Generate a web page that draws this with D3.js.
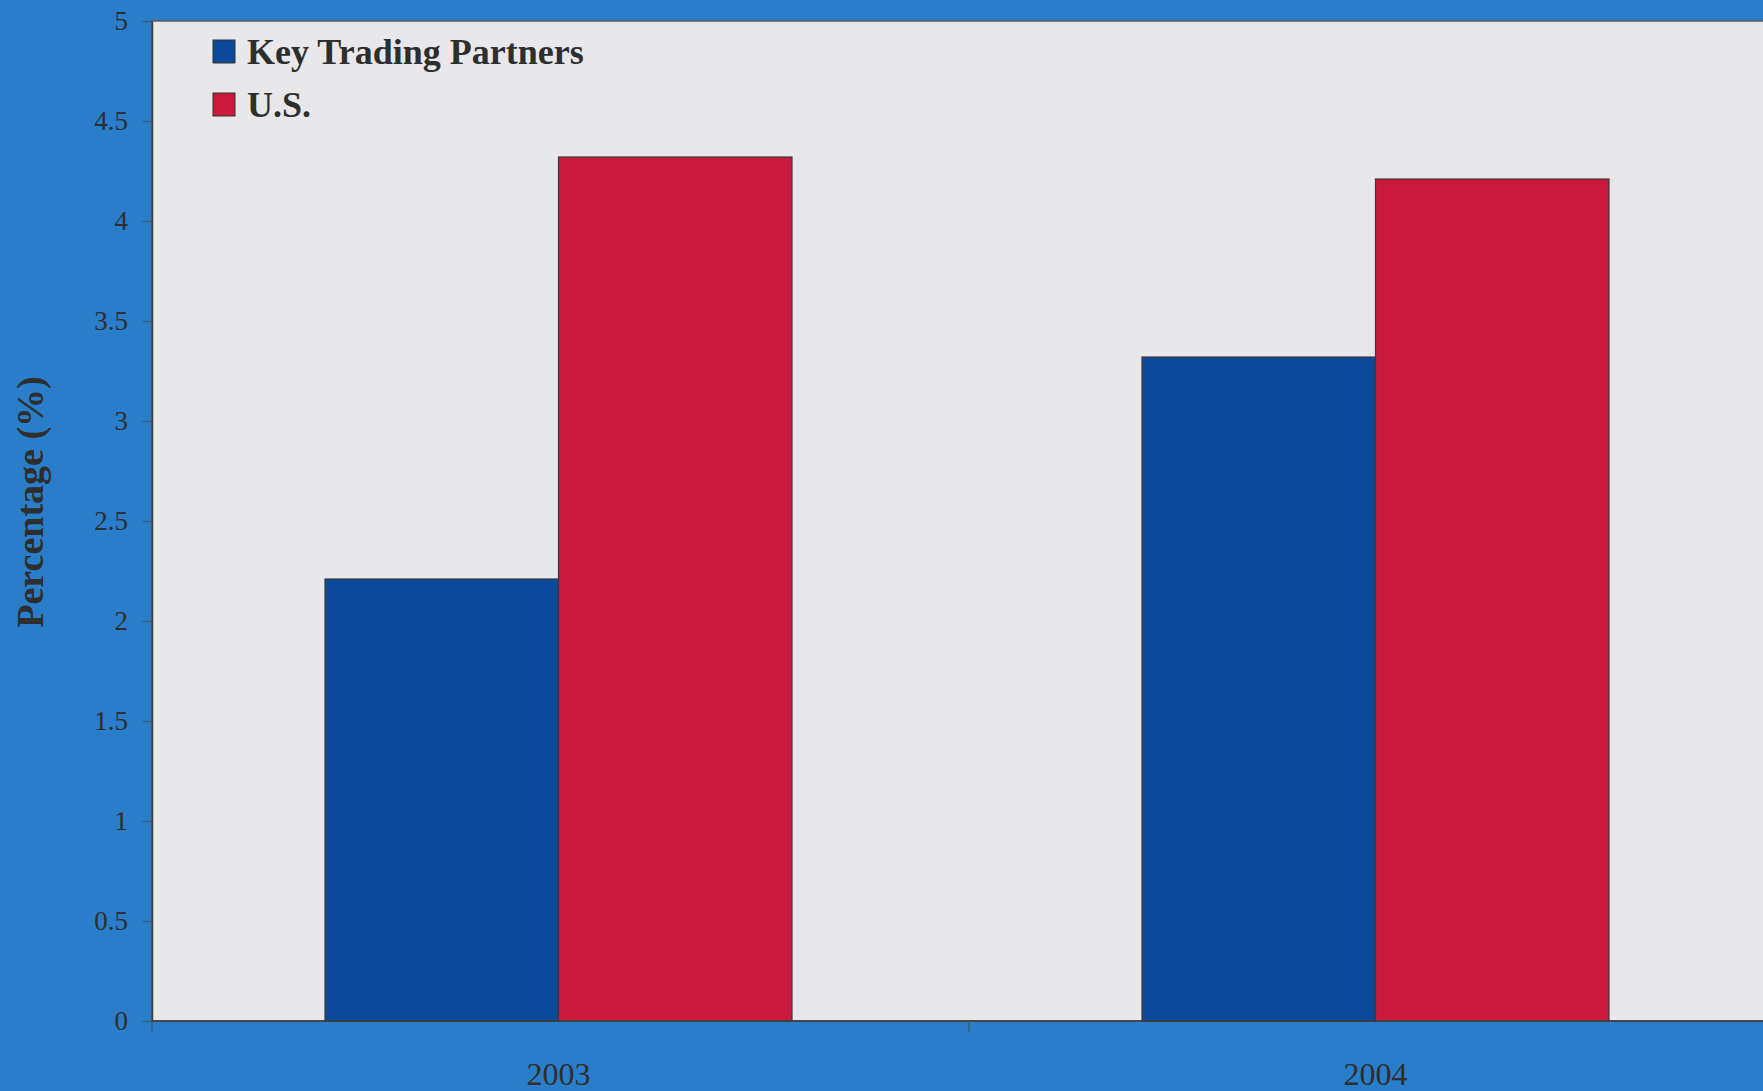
<!DOCTYPE html>
<html>
<head>
<meta charset="utf-8">
<script src="https://cdn.jsdelivr.net/npm/d3@7"></script>
<style>
  html, body { margin: 0; padding: 0; background: #2a7dc9; overflow: hidden; }
  svg { display: block; }
</style>
</head>
<body>
<svg id="chart" width="1763" height="1091"></svg>
<script>
// ---- data ----
const categories = ["2003", "2004"];
const seriesNames = ["Key Trading Partners", "U.S."];
const keyTradingPartners = [2.21, 3.32];
const us = [4.32, 4.21];
const yTicks = [0, 0.5, 1, 1.5, 2, 2.5, 3, 3.5, 4, 4.5, 5];
const yTickLabels = ["0", "0.5", "1", "1.5", "2", "2.5", "3", "3.5", "4", "4.5", "5"];
const yTitle = "Percentage (%)";

const seriesValues = [keyTradingPartners, us];
const seriesColors = ["#0c4a99", "#c91a3d"];

// ---- layout ----
const W = 1763, H = 1091;
const plotLeft = 152, plotTop = 21, plotBottom = 1021;
const step = 817;

const svg = d3.select("#chart");
svg.append("rect").attr("x", 0).attr("y", 0).attr("width", W).attr("height", H).attr("fill", "#2a7dc9");

const y = d3.scaleLinear().domain([0, 5]).range([plotBottom, plotTop]);
const x0 = d3.scaleBand().domain(categories).range([plotLeft, plotLeft + step * categories.length]).padding(0);
const x1 = d3.scaleBand().domain(seriesNames).range([173, 640]).padding(0);

// plot area
svg.append("rect")
  .attr("x", plotLeft).attr("y", plotTop)
  .attr("width", W - plotLeft + 5).attr("height", plotBottom - plotTop)
  .attr("fill", "#e8e8ea")
  .attr("stroke", "#5a5a5a").attr("stroke-width", 1.5);

// bars
const rows = categories.map((c, i) => ({ cat: c, vals: seriesNames.map((s, j) => ({ s, j, v: seriesValues[j][i] })) }));
const groups = svg.append("g").selectAll("g").data(rows).join("g")
  .attr("transform", d => `translate(${x0(d.cat)},0)`);
groups.selectAll("rect").data(d => d.vals).join("rect")
  .attr("x", d => x1(d.s))
  .attr("y", d => y(d.v))
  .attr("width", x1.bandwidth())
  .attr("height", d => y(0) - y(d.v))
  .attr("fill", d => seriesColors[d.j])
  .attr("stroke", "#3a3a3a").attr("stroke-width", 1.2);

// y axis
const yAxis = svg.append("g").attr("transform", `translate(${plotLeft},0)`)
  .call(d3.axisLeft(y).tickValues(yTicks).tickFormat((d, i) => yTickLabels[i]).tickSize(10).tickPadding(14).tickSizeOuter(0));
yAxis.select(".domain").attr("stroke", "#3d3d3d").attr("stroke-width", 1.5);
yAxis.selectAll(".tick line").attr("stroke", "#3f5a6a").attr("stroke-width", 1.2);
yAxis.selectAll(".tick text")
  .attr("fill", "#2e2e2e")
  .style("font-family", "'Liberation Serif', 'Times New Roman', serif")
  .style("font-size", "27px");

// x axis
const xAxis = svg.append("g").attr("transform", `translate(0,${plotBottom})`);
xAxis.append("line").attr("x1", plotLeft).attr("x2", W).attr("y1", 0).attr("y2", 0)
  .attr("stroke", "#3d3d3d").attr("stroke-width", 1.5);
xAxis.selectAll("line.tk").data(categories).join("line").attr("class", "tk")
  .attr("x1", d => x0(d)).attr("x2", d => x0(d)).attr("y1", 0).attr("y2", 11)
  .attr("stroke", "#3f5a6a").attr("stroke-width", 1.2);
xAxis.selectAll("text").data(categories).join("text")
  .attr("x", d => x0(d) + x0.bandwidth() / 2 - 2)
  .attr("y", 64)
  .attr("text-anchor", "middle")
  .attr("fill", "#2e2e2e")
  .style("font-family", "'Liberation Serif', 'Times New Roman', serif")
  .style("font-size", "32px")
  .text(d => d);

// y title
svg.append("text")
  .attr("transform", `translate(43,502) rotate(-90)`)
  .attr("text-anchor", "middle")
  .attr("fill", "#2e2e2e")
  .style("font-family", "'Liberation Serif', 'Times New Roman', serif")
  .style("font-weight", "bold")
  .style("font-size", "38px")
  .text(yTitle);

// legend
const legend = svg.append("g").attr("transform", "translate(213,40)");
const li = legend.selectAll("g").data(seriesNames).join("g")
  .attr("transform", (d, i) => `translate(0,${i * 53})`);
li.append("rect").attr("x", 0).attr("y", 0).attr("width", 22).attr("height", 23)
  .attr("fill", (d, i) => seriesColors[i]).attr("stroke", "#333").attr("stroke-width", 1);
li.append("text").attr("x", 34).attr("y", 24)
  .attr("fill", "#2e2e2e")
  .style("font-family", "'Liberation Serif', 'Times New Roman', serif")
  .style("font-weight", "bold")
  .style("font-size", "36px")
  .text(d => d);
</script>
</body>
</html>
